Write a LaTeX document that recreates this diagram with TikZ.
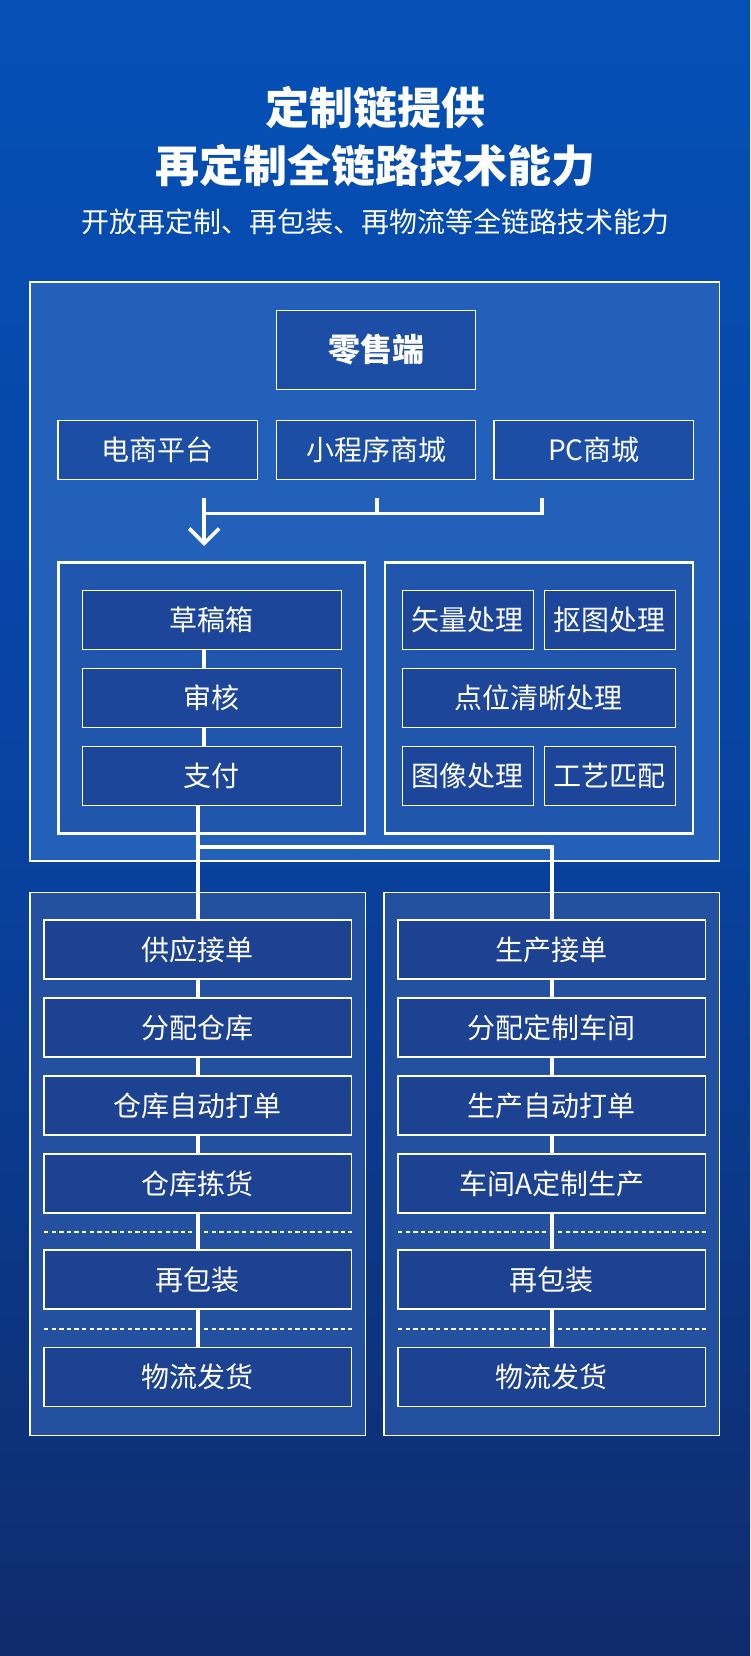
\documentclass[tikz,border=0pt]{standalone}
\usepackage{fontspec}
\setmainfont{Noto Sans CJK SC}
\usetikzlibrary{arrows.meta}
\definecolor{bgtop}{RGB}{5,80,182}
\definecolor{bgmid}{RGB}{8,66,160}
\definecolor{bgbot}{RGB}{15,44,108}
\definecolor{bigfill}{RGB}{34,96,186}
\definecolor{grpfill}{RGB}{32,86,172}
\definecolor{itemfill}{RGB}{29,70,154}
\definecolor{rootfill}{RGB}{28,78,166}
\definecolor{lowgrp}{RGB}{36,80,160}
\definecolor{lowitem}{RGB}{30,66,146}
\begin{document}
\begin{tikzpicture}[x=1pt,y=-1pt,
  every node/.style={inner sep=0pt,outer sep=0pt,text=white},
  boxtext/.style={font=\fontsize{28}{28}\selectfont},
  item/.style={draw=white,line width=1.4pt,fill=itemfill,minimum height=59pt,boxtext},
  litem/.style={draw=white,line width=1.4pt,fill=lowitem,minimum height=59pt,boxtext},
  bigbox/.style={draw=white,line width=1.4pt,fill=bigfill},
  grp/.style={draw=white,line width=2.5pt,fill=grpfill},
  lgrp/.style={draw=white,line width=1.4pt,fill=lowgrp},
  link/.style={draw=white,line width=3.6pt},
  dashline/.style={draw=white,line width=1.8pt,dash pattern=on 4.3pt off 3.3pt},
]
\useasboundingbox (0,0) rectangle (750,1656);
\shade[top color=bgtop, bottom color=bgbot, middle color=bgmid] (0,0) rectangle (750,1656);

% titles
\node[font=\fontsize{44}{44}\bfseries\selectfont] (t1) at (375,108) {定制链提供};
\node[font=\fontsize{44}{44}\bfseries\selectfont] (t2) at (375,166) {再定制全链路技术能力};
\node[font=\fontsize{28}{28}\selectfont] (t3) at (375,222) {开放再定制、再包装、再物流等全链路技术能力};

% top big box
\node[bigbox,minimum width=689.5pt,minimum height=579pt] (topbox) at (374.75,571.5) {};
\node[draw=white,line width=1.4pt,fill=rootfill,minimum width=199.4pt,minimum height=79pt,
      font=\fontsize{32}{32}\bfseries\selectfont] (root) at (376,349.8) {零售端};
\node[item,fill=rootfill,minimum width=199.5pt] (ds) at (157.75,449.9) {电商平台};
\node[item,fill=rootfill,minimum width=199.5pt] (xcx) at (376,449.9) {小程序商城};
\node[item,fill=rootfill,minimum width=199.5pt] (pc) at (593.9,449.9) {PC商城};

% inner groups
\node[grp,minimum width=306.6pt,minimum height=270.6pt] (lg) at (211.7,698) {};
\node[grp,minimum width=308.1pt,minimum height=270.6pt] (rg) at (539.05,698) {};

\node[item,minimum width=259.2pt] (cg) at (211.9,619.8) {草稿箱};
\node[item,minimum width=259.2pt] (sh) at (211.9,697.8) {审核};
\node[item,minimum width=259.2pt] (zf) at (211.9,775.8) {支付};

\node[item,minimum width=131pt] (sl) at (467.8,619.8) {矢量处理};
\node[item,minimum width=131pt] (kt) at (609.85,619.8) {抠图处理};
\node[item,minimum width=273.1pt] (dw) at (538.85,697.8) {点位清晰处理};
\node[item,minimum width=131pt] (tx) at (467.8,775.8) {图像处理};
\node[item,minimum width=131pt] (gy2) at (609.85,775.8) {工艺匹配};

% lower groups
\node[lgrp,minimum width=335.4pt,minimum height=542.6pt] (lowl) at (197.7,1164) {};
\node[lgrp,minimum width=335.4pt,minimum height=542.6pt] (lowr) at (551.7,1164) {};

\node[litem,minimum width=307.6pt] (gy) at (197.8,949.6) {供应接单};
\node[litem,minimum width=307.6pt] (fp) at (197.8,1027.6) {分配仓库};
\node[litem,minimum width=307.6pt] (cd) at (197.8,1105.6) {仓库自动打单};
\node[litem,minimum width=307.6pt] (jh) at (197.8,1183.6) {仓库拣货};
\node[litem,minimum width=307.6pt] (bz1) at (197.8,1279.6) {再包装};
\node[litem,minimum width=307.6pt] (wl1) at (197.8,1376.8) {物流发货};

\node[litem,minimum width=307.5pt] (sc) at (551.75,949.6) {生产接单};
\node[litem,minimum width=307.5pt] (fc) at (551.75,1027.6) {分配定制车间};
\node[litem,minimum width=307.5pt] (sd) at (551.75,1105.6) {生产自动打单};
\node[litem,minimum width=307.5pt] (cj) at (551.75,1183.6) {车间A定制生产};
\node[litem,minimum width=307.5pt] (bz2) at (551.75,1279.6) {再包装};
\node[litem,minimum width=307.5pt] (wl2) at (551.75,1376.8) {物流发货};

% dashed separators
\draw[dashline] (44,1231.7) -- (192,1231.7);
\draw[dashline] (204,1231.7) -- (351.6,1231.7);
\draw[dashline] (44,1329) -- (192,1329);
\draw[dashline] (204,1329) -- (351.6,1329);
\draw[dashline] (398,1231.7) -- (546,1231.7);
\draw[dashline] (558,1231.7) -- (705.5,1231.7);
\draw[dashline] (398,1329) -- (546,1329);
\draw[dashline] (558,1329) -- (705.5,1329);

% top connectors
\coordinate (s1) at (204.2,498.3);
\coordinate (s2) at (376.9,498.3);
\coordinate (s3) at (541.9,498.3);
\coordinate (hj) at (204.2,513.3);
\coordinate (tip) at (204.2,546);
\draw[link] (s3) |- (hj);
\draw[link] (s2) -- (s2 |- hj);
\draw[link,-{Straight Barb[length=15pt,width=30pt]}] (s1) -- (tip);

% stack links
\draw[link] ([xshift=-7.7pt]cg.south) -- ([xshift=-7.7pt]sh.north);
\draw[link] ([xshift=-7.7pt]sh.south) -- ([xshift=-7.7pt]zf.north);

% split to two columns
\coordinate (j1) at (197.8,846.7);
\draw[link] (zf.south -| gy.north) -- (gy.north);
\draw[link] (j1) -| (sc.north);

% column links
\draw[link] (gy.south) -- (fp.north);
\draw[link] (fp.south) -- (cd.north);
\draw[link] (cd.south) -- (jh.north);
\draw[link] (jh.south) -- (bz1.north);
\draw[link] (bz1.south) -- (wl1.north);
\draw[link] (sc.south) -- (fc.north);
\draw[link] (fc.south) -- (sd.north);
\draw[link] (sd.south) -- (cj.north);
\draw[link] (cj.south) -- (bz2.north);
\draw[link] (bz2.south) -- (wl2.north);
\end{tikzpicture}
\end{document}
